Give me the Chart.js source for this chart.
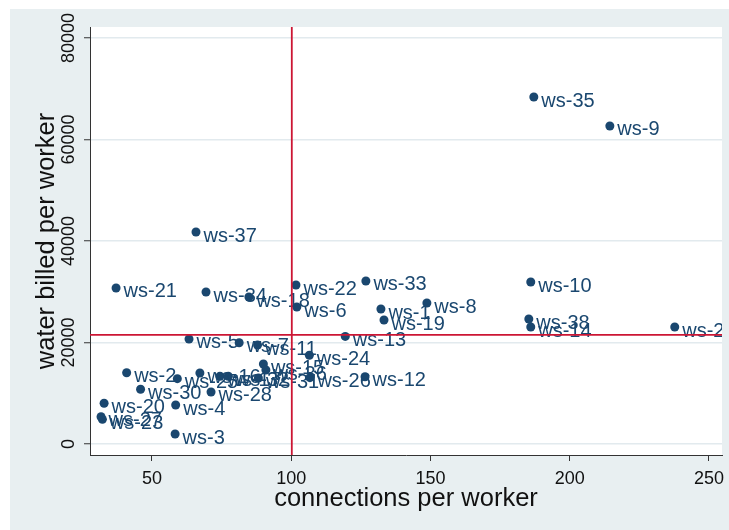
<!DOCTYPE html>
<html>
<head>
<meta charset="utf-8">
<script src="https://cdn.jsdelivr.net/npm/chart.js@4/dist/chart.umd.min.js"></script>
<style>
  html, body { margin: 0; padding: 0; background: #ffffff; }
  #wrap { width: 729px; height: 530px; }
</style>
</head>
<body>
<div id="wrap"><canvas id="c" width="729" height="530"></canvas></div>
<script>
// Water schemes: connections per worker vs water billed per worker
const stations = [
  'ws-1','ws-2','ws-3','ws-4','ws-5','ws-6','ws-7','ws-8','ws-9','ws-10',
  'ws-11','ws-12','ws-13','ws-14','ws-15','ws-16','ws-17','ws-18','ws-19','ws-20',
  'ws-21','ws-22','ws-23','ws-24','ws-25','ws-26','ws-27','ws-28','ws-29','ws-30',
  'ws-31','ws-32','ws-33','ws-34','ws-35','ws-36','ws-37','ws-38'
];
const connections = [
  132.2, 40.9, 58.3, 58.5, 63.3, 102.0, 81.3, 148.7, 214.4, 186.0,
  87.9, 126.5, 119.4, 186.0, 90.0, 67.2, 74.4, 84.8, 133.3, 32.8,
  37.1, 101.7, 32.2, 106.5, 59.1, 106.7, 31.7, 71.2, 237.7, 45.9,
  88.2, 77.4, 126.8, 69.4, 187.1, 90.9, 65.8, 185.3
];
const waterBilled = [
  26600, 14050, 1970, 7680, 20690, 26990, 19960, 27780, 62660, 31920,
  19500, 13260, 21200, 23050, 15760, 13990, 13340, 28960, 24430, 8020,
  30740, 31330, 4860, 17480, 12870, 13070, 5380, 10250, 23050, 10780,
  13000, 13340, 32120, 29950, 68370, 14580, 41770, 24630
];
const xTicks = [50, 100, 150, 200, 250];
const yTicks = [0, 20000, 40000, 60000, 80000];
const xRange = [27.74, 254.67];
const yRange = [-2167, 82167];
const refConnections = 100.2;   // vertical reference line
const refBilled = 21500;        // horizontal reference line

const FONT = "'Liberation Sans', Arial, sans-serif";
const NAVY = '#1a476f';
const RED = '#cc1634';

const points = connections.map((x, i) => ({ x, y: waterBilled[i] }));

// Backgrounds: outer graph region and white plot region
const backdrop = {
  id: 'backdrop',
  beforeDraw(chart) {
    const { ctx, chartArea: a } = chart;
    ctx.save();
    ctx.fillStyle = '#ffffff';
    ctx.fillRect(0, 0, chart.width, chart.height);
    ctx.fillStyle = '#e8eff1';
    ctx.fillRect(10, 9, chart.width - 10, chart.height - 9);
    ctx.fillStyle = '#ffffff';
    ctx.fillRect(a.left, a.top, a.right - a.left, a.bottom - a.top);
    ctx.restore();
  }
};

// Marker labels to the right of each point
const pointLabels = {
  id: 'pointLabels',
  afterDatasetDraw(chart, args) {
    if (args.index !== 0) return;
    const { ctx, chartArea: a } = chart;
    const meta = chart.getDatasetMeta(0);
    ctx.save();
    ctx.beginPath();
    ctx.rect(a.left, a.top, a.right - a.left, a.bottom - a.top);
    ctx.clip();
    ctx.font = '20px ' + FONT;
    ctx.fillStyle = NAVY;
    ctx.textAlign = 'left';
    ctx.textBaseline = 'alphabetic';
    meta.data.forEach((el, i) => {
      ctx.fillText(stations[i], el.x + 7.5, el.y + 9.5);
    });
    ctx.restore();
  }
};

// Vertical y-axis tick labels
const yTickLabels = {
  id: 'yTickLabels',
  afterDraw(chart) {
    const { ctx } = chart;
    const ys = chart.scales.y;
    ctx.save();
    ctx.font = '18px ' + FONT;
    ctx.fillStyle = '#111';
    ctx.textAlign = 'center';
    ctx.textBaseline = 'alphabetic';
    ys.ticks.forEach(t => {
      const py = ys.getPixelForValue(t.value);
      ctx.save();
      ctx.translate(74, py);
      ctx.rotate(-Math.PI / 2);
      ctx.fillText(String(t.value), 0, 0);
      ctx.restore();
    });
    ctx.restore();
  }
};

new Chart(document.getElementById('c'), {
  type: 'scatter',
  data: {
    datasets: [
      {
        type: 'scatter',
        data: points,
        backgroundColor: NAVY,
        borderColor: NAVY,
        borderWidth: 0,
        pointRadius: 4.5,
        pointHoverRadius: 4.5,
        order: 2
      },
      {
        type: 'line',
        data: [{ x: refConnections, y: yRange[0] }, { x: refConnections, y: yRange[1] }],
        borderColor: RED,
        borderWidth: 1.8,
        pointRadius: 0,
        fill: false,
        order: 1
      },
      {
        type: 'line',
        data: [{ x: xRange[0], y: refBilled }, { x: xRange[1], y: refBilled }],
        borderColor: RED,
        borderWidth: 1.8,
        pointRadius: 0,
        fill: false,
        order: 1
      }
    ]
  },
  options: {
    responsive: false,
    animation: false,
    events: [],
    layout: { padding: { left: 0, top: 27, right: 7, bottom: 0 } },
    plugins: { legend: { display: false }, tooltip: { enabled: false } },
    scales: {
      x: {
        type: 'linear',
        min: xRange[0],
        max: xRange[1],
        afterBuildTicks: s => { s.ticks = xTicks.map(v => ({ value: v })); },
        afterFit: s => { s.height = 75; s.paddingLeft = 0; s.paddingRight = 0; },
        grid: { drawOnChartArea: false, drawTicks: true, tickLength: 6, tickColor: '#333', tickWidth: 1 },
        border: { display: true, color: '#333', width: 1 },
        ticks: { font: { family: FONT, size: 18 }, color: '#111', padding: 7, maxRotation: 0, autoSkip: false },
        title: {
          display: true,
          text: 'connections per worker',
          font: { family: FONT, size: 25.5 },
          color: '#111',
          padding: { top: 0, bottom: 16 }
        }
      },
      y: {
        type: 'linear',
        min: yRange[0],
        max: yRange[1],
        afterBuildTicks: s => { s.ticks = yTicks.map(v => ({ value: v })); },
        afterFit: s => { s.width = 90; s.paddingTop = 0; s.paddingBottom = 0; },
        grid: { drawOnChartArea: true, color: '#e2eaee', lineWidth: 1.5, drawTicks: true, tickLength: 6, tickColor: '#333', tickWidth: 1 },
        border: { display: true, color: '#333', width: 1 },
        ticks: { display: false },
        title: {
          display: true,
          text: 'water billed per worker',
          font: { family: FONT, size: 25.5 },
          color: '#111',
          padding: { top: 32, bottom: 0 }
        }
      }
    }
  },
  plugins: [backdrop, pointLabels, yTickLabels]
});
</script>
</body>
</html>
